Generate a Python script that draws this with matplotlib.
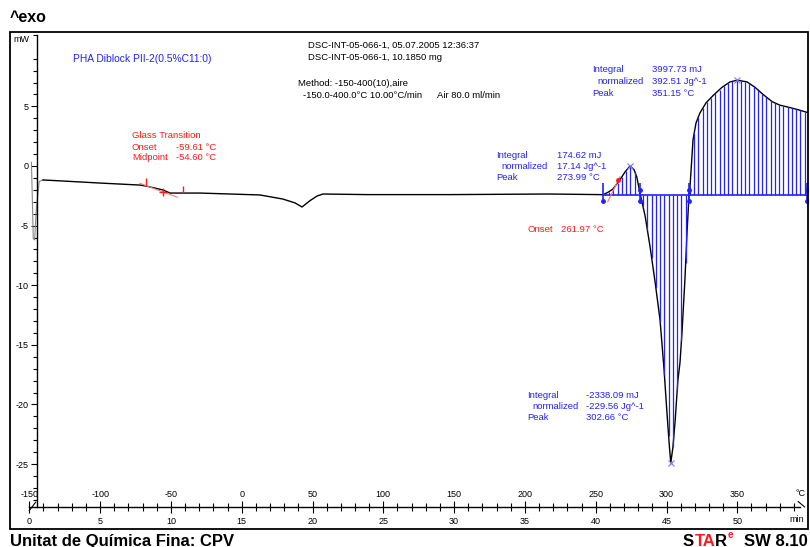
import numpy as np
import matplotlib
matplotlib.use('Agg')
import matplotlib.pyplot as plt
from matplotlib.patches import Rectangle

plt.rcParams['font.family'] = 'Liberation Sans'
plt.rcParams['axes.unicode_minus'] = False

W, H = 810, 547
BLUE = '#2222ff'
RED = '#ff1a1a'

# DSC curve: time [min] vs heat flow [mW]
t_start = [0.15, 0.20, 0.28, 0.38, 0.50, 0.70, 0.97]
mw_start = [0.30, -2.0, -6.1, -6.2, -3.5, -1.3, -1.17]

t_curve = [0.97, 4.99, 7.82, 8.24, 9.44, 9.94, 12.05, 16.29, 17.90, 18.77, 19.26,
           19.83, 20.32, 20.74, 23.85, 29.70, 36.77, 40.30, 40.51, 40.87, 41.20,
           41.70, 42.07, 42.42, 42.70, 42.90, 43.13, 43.49, 43.84, 44.20, 44.54,
           44.82, 45.03, 45.20, 45.30, 45.45, 45.60, 45.80, 45.95, 46.10, 46.30,
           46.45, 46.59, 46.66, 46.87, 47.08, 47.36, 47.79, 48.28, 48.92, 49.48,
           50.00, 50.69, 51.25, 51.82, 52.45, 53.01, 53.72, 54.20, 54.92]
mw_curve = [-1.17, -1.43, -1.60, -1.68, -2.01, -2.27, -2.27, -2.43, -2.77, -3.10, -3.44,
            -2.90, -2.52, -2.35, -2.40, -2.40, -2.35, -2.40, -2.42, -2.20, -1.95,
            -1.17, -0.50, 0.00, -0.30, -0.92, -2.30, -4.20, -6.80, -9.80, -12.9,
            -17.0, -20.7, -23.5, -24.9, -23.6, -21.5, -18.0, -16.5, -13.8, -9.5,
            -5.5, -2.4, -1.7, 2.2, 3.6, 4.45, 5.3, 5.9, 6.6, 7.05,
            7.20, 7.05, 6.6, 6.0, 5.4, 5.1, 4.9, 4.75, 4.5]

# integration results
baseline_mw = -2.42
limits_t = [40.50, 43.13, 46.60, 54.92]
peak_t = [42.42, 45.30, 50.00]
peak_mw = [0.0, -24.9, 7.2]

# glass transition construction
tg_tangent_t = [7.80, 10.45]
tg_tangent_mw = [-1.45, -2.62]
tg_marks_t = [8.24, 10.85]
tg_marks_mw = [-1.30, -1.95]
tg_mid_t = [9.44]
tg_mid_mw = [-2.15]
onset_t = [40.85, 41.70]
onset_mw = [-3.0, -0.9]

y_major = [5, 0, -5, -10, -15, -20, -25]
t_major = list(range(0, 51, 5))
temp_major = list(range(-150, 351, 50))

fig = plt.figure(figsize=(W / 100, H / 100), dpi=100)

def px(x, y):
    return x / W, 1 - y / H

def ftext(x, y, s, **kw):
    kw.setdefault('fontsize', 6.8)
    kw.setdefault('va', 'center')
    kw.setdefault('ha', 'left')
    return fig.text(*px(x, y), s, **kw)

ax = fig.add_axes([10 / W, 1 - 529 / H, 798 / W, 497 / H])
ax.patch.set_visible(False)
xlim = (-1.363, 54.99)
ax.set_xlim(*xlim)
ax.set_ylim(-30.45, 11.24)

x_axis_y = -28.6
for s in ['top', 'right']:
    ax.spines[s].set_visible(False)
ax.spines['left'].set_position(('data', 0.55))
ax.spines['left'].set_bounds(x_axis_y, 11.0)
ax.spines['bottom'].set_position(('data', x_axis_y))
ax.spines['bottom'].set_bounds(0, 54.4)
ax.spines['left'].set_linewidth(1.0)
ax.spines['bottom'].set_linewidth(1.0)

ax.set_yticks(y_major)
ax.set_yticks([v for v in range(-28, 12) if v % 5 != 0], minor=True)
ax.tick_params(axis='y', which='major', direction='out', length=4.5, width=0.8,
               labelsize=6.5, pad=1.5)
ax.tick_params(axis='y', which='minor', direction='out', length=3, width=0.8)
ax.set_xticks(t_major)
ax.set_xticks([v for v in range(0, 55) if v % 5 != 0], minor=True)
ax.tick_params(axis='x', which='major', direction='inout', length=9, width=0.8,
               labelsize=6.5, pad=2.5)
ax.tick_params(axis='x', which='minor', direction='inout', length=6, width=0.8)

ax2 = ax.twiny()
ax2.patch.set_visible(False)
ax2.set_xlim(-150 + 10 * xlim[0], -150 + 10 * xlim[1])
for s in ['top', 'bottom', 'left', 'right']:
    ax2.spines[s].set_visible(False)
ax2.spines['top'].set_position(('data', x_axis_y))
ax2.set_xticks(temp_major)
ax2.tick_params(axis='x', length=0, labelsize=6.5, pad=6)

# curve
ax.plot(t_start, mw_start, color='#888888', lw=0.8)
ax.plot(t_curve, mw_curve, color='black', lw=1.0)

# hatching between curve and integration baseline
ht = np.arange(limits_t[0] + 0.15, limits_t[-1], 0.3)
ax.vlines(ht, baseline_mw, np.interp(ht, t_curve, mw_curve), colors=BLUE, lw=0.9)
ax.plot([limits_t[0], limits_t[-1]], [baseline_mw, baseline_mw], color=BLUE, lw=1.2)
ax.vlines(limits_t, [baseline_mw + 1.0] * 4, [baseline_mw - 0.5] * 4, colors=BLUE, lw=1.2)
ax.plot(limits_t, [baseline_mw - 0.5] * 4, ls='none', marker='o', ms=2.5, color=BLUE)
ax.plot(limits_t[1:], [baseline_mw + 0.4] * 3, ls='none', marker='o', ms=2.5, color=BLUE)
ax.plot(peak_t, peak_mw, ls='none', marker='x', ms=5, mew=0.8, color='#7777ff')

# onset and glass transition constructions
ax.plot(onset_t, onset_mw, color='#ff7777', lw=0.8)
ax.plot([41.55], [-1.15], ls='none', marker='o', ms=2.5, color=RED)
ax.plot(tg_tangent_t, tg_tangent_mw, color='#ff7777', lw=0.8)
ax.vlines(tg_marks_t, [m - 0.3 for m in tg_marks_mw], [m + 0.3 for m in tg_marks_mw],
          colors=RED, lw=1.0)
ax.plot(tg_mid_t, tg_mid_mw, ls='none', marker='+', ms=6, mew=1.0, color=RED)

# axis end ornaments
ax.plot([54.3, 54.75], [x_axis_y + 0.45, x_axis_y], color='black', lw=0.8)
ax.plot([0.0, 0.45], [x_axis_y - 0.3, x_axis_y + 0.4], color='black', lw=0.8)

# frame
fig.add_artist(Rectangle(px(10, 529), 798 / W, 497 / H, transform=fig.transFigure,
                         fill=False, lw=1.3, ec='black'))

# texts
ftext(10, 18, '^exo', fontsize=11.5, fontweight='bold')
ftext(13, 40, 'mW', fontsize=6.5)
ftext(800, 493, '°C', fontsize=6.5, ha='center')
ftext(797, 520, 'min', fontsize=6.5, ha='center')
ftext(73, 59, 'PHA Diblock PII-2(0.5%C11:0)', color=BLUE, fontsize=7.4)
ftext(308, 45, 'DSC-INT-05-066-1, 05.07.2005 12:36:37')
ftext(308, 57, 'DSC-INT-05-066-1, 10.1850 mg')
ftext(298, 83, 'Method: -150-400(10),aire')
ftext(303, 96, '-150.0-400.0°C 10.00°C/min')
ftext(437, 96, 'Air 80.0 ml/min')

ftext(132, 136, 'Glass Transition', color=RED)
ftext(132, 147, 'Onset', color=RED)
ftext(176, 147, '-59.61 °C', color=RED)
ftext(132, 158, 'Midpoint', color=RED)
ftext(176, 158, '-54.60 °C', color=RED)

def integral_block(x, y, xv, vals):
    ftext(x, y, 'Integral', color=BLUE)
    ftext(x + 5, y + 11.5, 'normalized', color=BLUE)
    ftext(x, y + 23, 'Peak', color=BLUE)
    for k, v in enumerate(vals):
        ftext(xv, y + 11.5 * k, v, color=BLUE)

integral_block(496, 155, 557, ['174.62 mJ', '17.14 Jg^-1', '273.99 °C'])
integral_block(592, 70, 652, ['3997.73 mJ', '392.51 Jg^-1', '351.15 °C'])
integral_block(527, 395, 586, ['-2338.09 mJ', '-229.56 Jg^-1', '302.66 °C'])
ftext(527, 230, 'Onset', color=RED)
ftext(561, 230, '261.97 °C', color=RED)

# footer
foot = dict(fontsize=12, fontweight='bold', va='baseline', ha='left')
fig.text(*px(10, 546), 'Unitat de Química Fina: CPV', **foot)
fig.text(*px(683, 546), 'S', **foot)
fig.text(*px(694.5, 546), 'TA', color=RED, **foot)
fig.text(*px(714.5, 546), 'R', **foot)
fig.text(*px(727.5, 538), 'e', color=RED, fontsize=7, fontweight='bold', va='baseline')
fig.text(*px(808, 546), 'SW 8.10', fontsize=12, fontweight='bold', va='baseline', ha='right')

fig.savefig('out.png', dpi=100)
